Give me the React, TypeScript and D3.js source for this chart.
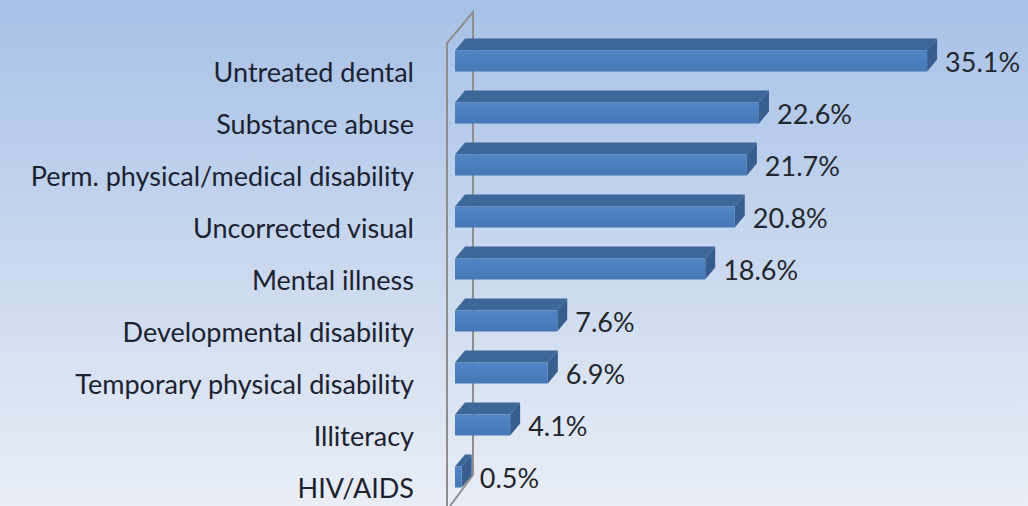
import { useMemo } from 'react';
import * as d3 from 'd3';

const CATEGORIES = [
  'Untreated dental',
  'Substance abuse',
  'Perm. physical/medical disability',
  'Uncorrected visual',
  'Mental illness',
  'Developmental disability',
  'Temporary physical disability',
  'Illiteracy',
  'HIV/AIDS',
];
const VALUES = [35.1, 22.6, 21.7, 20.8, 18.6, 7.6, 6.9, 4.1, 0.5];
const VALUE_LABELS = ['35.1%', '22.6%', '21.7%', '20.8%', '18.6%', '7.6%', '6.9%', '4.1%', '0.5%'];

const W = 1028;
const H = 506;
const FONT = 'Lato, "Open Sans", sans-serif';

export default function App() {
  // wall geometry (3D depth offsets)
  const wallFrontX = 447;
  const wallDx = 26;
  const wallDy = -31;
  const barDx = 10;
  const barDy = -12;
  const barH = 21;

  const x = useMemo(() => d3.scaleLinear().domain([0, 40]).range([455, 455 + 40 * 13.45]), []);
  const y = useMemo(() => d3.scalePoint<string>().domain(CATEGORIES).range([61, 477]), []);

  const bars = CATEGORIES.map((c, i) => {
    const cy = y(c)!;
    const x0 = x(0);
    const x1 = x(VALUES[i]);
    const top = cy - barH / 2;
    const bot = cy + barH / 2;
    const front = `M${x0},${top}L${x1},${top}L${x1},${bot}L${x0},${bot}Z`;
    const topFace = `M${x0},${top}L${x0 + barDx},${top + barDy}L${x1 + barDx},${top + barDy}L${x1},${top}Z`;
    const side = `M${x1},${top}L${x1 + barDx},${top + barDy}L${x1 + barDx},${bot + barDy}L${x1},${bot}Z`;
    return { c, i, cy, x1, front, topFace, side };
  });

  const wallTop = 43;
  const wallBottom = 506;

  return (
    <svg width={W} height={H} style={{ position: 'absolute', left: 0, top: 0, display: 'block' }}>
      <defs>
        <linearGradient id="bg" x1="0" y1="0" x2="0" y2="1">
          <stop offset="0" stopColor="#a7c1e7" />
          <stop offset="1" stopColor="#e9eef6" />
        </linearGradient>
        <linearGradient id="front" x1="0" y1="0" x2="0" y2="1">
          <stop offset="0" stopColor="#5086c6" />
          <stop offset="1" stopColor="#4677b6" />
        </linearGradient>
      </defs>
      <rect width={W} height={H} fill="url(#bg)" />

      {/* 3D wall */}
      <g fill="none" stroke="#8e8e8e" strokeWidth={2}>
        <path d={`M${wallFrontX},${wallBottom + 4}L${wallFrontX},${wallTop}L${wallFrontX + wallDx},${wallTop + wallDy}L${wallFrontX + wallDx},${wallBottom + wallDy}`} />
        <path d={`M${wallFrontX + wallDx},${wallBottom + wallDy}L${wallFrontX + 3},${wallBottom}`} />
      </g>

      {/* bars */}
      {bars.map((b) => (
        <g key={b.c}>
          <path d={b.topFace} fill="#3d6699" />
          <path d={b.side} fill="#375e8f" />
          <path d={b.front} fill="url(#front)" />
        </g>
      ))}

      {/* category labels */}
      <g fontFamily={FONT} fontSize={27} fill="#1c2230" textAnchor="end">
        {bars.map((b) => (
          <text key={b.c} x={414} y={b.cy + 21}>{b.c}</text>
        ))}
      </g>

      {/* value labels */}
      <g fontFamily={FONT} fontSize={27} fill="#23262d">
        {bars.map((b) => (
          <text key={b.c} x={b.x1 + 18} y={b.cy + 11}>{VALUE_LABELS[b.i]}</text>
        ))}
      </g>
    </svg>
  );
}
